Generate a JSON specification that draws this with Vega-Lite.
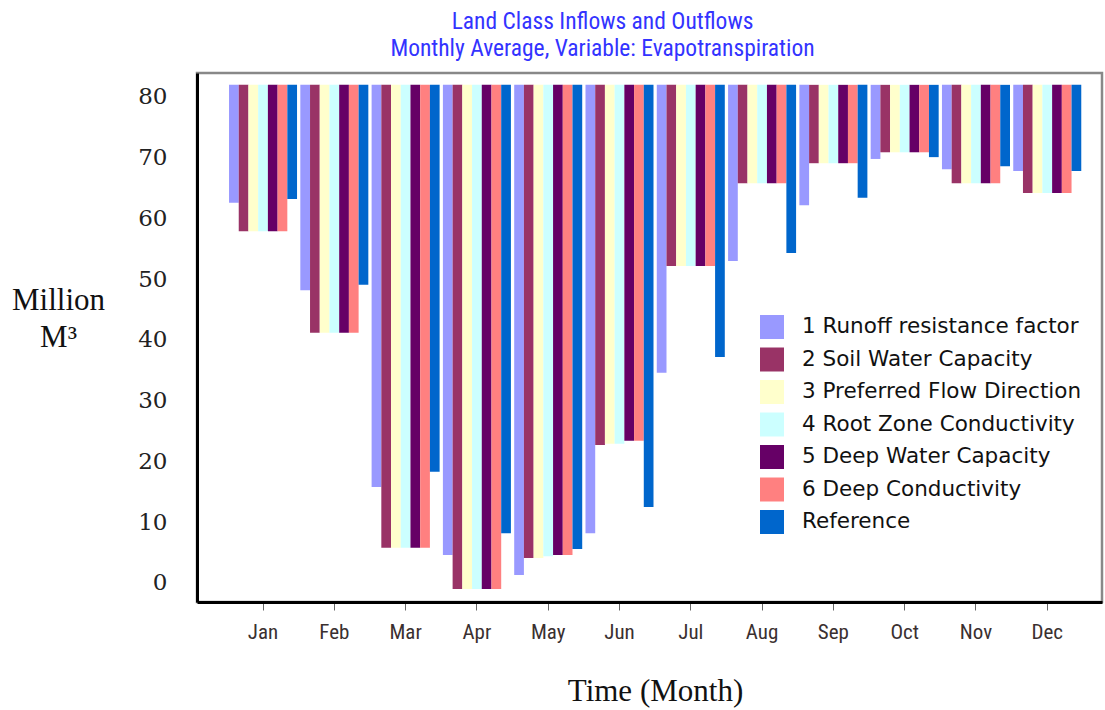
{
  "$schema": "https://vega.github.io/schema/vega-lite/v6.json",
  "autosize": {"type": "none"},
  "width": 905,
  "height": 529,
  "padding": {"left": 197, "top": 73, "right": 3, "bottom": 108},
  "background": "white",
  "title": {
    "text": ["Land Class Inflows and Outflows", "Monthly Average,  Variable: Evapotranspiration"],
    "anchor": "middle",
    "dx": -47,
    "offset": 13,
    "font": "Liberation Sans Narrow, Roboto Condensed, Liberation Sans, sans-serif",
    "fontSize": 23.5,
    "fontWeight": "normal",
    "color": "#3333ff",
    "lineHeight": 27
  },
  "data": {
    "values": [
      {"month": "Jan", "series": "1 Runoff resistance factor", "value": 62.6},
      {"month": "Jan", "series": "2 Soil Water Capacity", "value": 57.9},
      {"month": "Jan", "series": "3 Preferred Flow Direction", "value": 57.9},
      {"month": "Jan", "series": "4 Root Zone Conductivity", "value": 57.9},
      {"month": "Jan", "series": "5 Deep Water Capacity", "value": 57.9},
      {"month": "Jan", "series": "6 Deep Conductivity", "value": 57.9},
      {"month": "Jan", "series": "Reference", "value": 63.2},
      {"month": "Feb", "series": "1 Runoff resistance factor", "value": 48.2},
      {"month": "Feb", "series": "2 Soil Water Capacity", "value": 41.2},
      {"month": "Feb", "series": "3 Preferred Flow Direction", "value": 41.2},
      {"month": "Feb", "series": "4 Root Zone Conductivity", "value": 41.2},
      {"month": "Feb", "series": "5 Deep Water Capacity", "value": 41.2},
      {"month": "Feb", "series": "6 Deep Conductivity", "value": 41.2},
      {"month": "Feb", "series": "Reference", "value": 49.1},
      {"month": "Mar", "series": "1 Runoff resistance factor", "value": 15.8},
      {"month": "Mar", "series": "2 Soil Water Capacity", "value": 5.8},
      {"month": "Mar", "series": "3 Preferred Flow Direction", "value": 5.8},
      {"month": "Mar", "series": "4 Root Zone Conductivity", "value": 5.8},
      {"month": "Mar", "series": "5 Deep Water Capacity", "value": 5.8},
      {"month": "Mar", "series": "6 Deep Conductivity", "value": 5.8},
      {"month": "Mar", "series": "Reference", "value": 18.3},
      {"month": "Apr", "series": "1 Runoff resistance factor", "value": 4.6},
      {"month": "Apr", "series": "2 Soil Water Capacity", "value": -1.0},
      {"month": "Apr", "series": "3 Preferred Flow Direction", "value": -1.0},
      {"month": "Apr", "series": "4 Root Zone Conductivity", "value": -1.0},
      {"month": "Apr", "series": "5 Deep Water Capacity", "value": -1.0},
      {"month": "Apr", "series": "6 Deep Conductivity", "value": -1.0},
      {"month": "Apr", "series": "Reference", "value": 8.2},
      {"month": "May", "series": "1 Runoff resistance factor", "value": 1.3},
      {"month": "May", "series": "2 Soil Water Capacity", "value": 4.1},
      {"month": "May", "series": "3 Preferred Flow Direction", "value": 4.1},
      {"month": "May", "series": "4 Root Zone Conductivity", "value": 4.4},
      {"month": "May", "series": "5 Deep Water Capacity", "value": 4.6},
      {"month": "May", "series": "6 Deep Conductivity", "value": 4.6},
      {"month": "May", "series": "Reference", "value": 5.6},
      {"month": "Jun", "series": "1 Runoff resistance factor", "value": 8.2},
      {"month": "Jun", "series": "2 Soil Water Capacity", "value": 22.7},
      {"month": "Jun", "series": "3 Preferred Flow Direction", "value": 22.9},
      {"month": "Jun", "series": "4 Root Zone Conductivity", "value": 22.9},
      {"month": "Jun", "series": "5 Deep Water Capacity", "value": 23.4},
      {"month": "Jun", "series": "6 Deep Conductivity", "value": 23.4},
      {"month": "Jun", "series": "Reference", "value": 12.5},
      {"month": "Jul", "series": "1 Runoff resistance factor", "value": 34.6},
      {"month": "Jul", "series": "2 Soil Water Capacity", "value": 52.2},
      {"month": "Jul", "series": "3 Preferred Flow Direction", "value": 52.2},
      {"month": "Jul", "series": "4 Root Zone Conductivity", "value": 52.2},
      {"month": "Jul", "series": "5 Deep Water Capacity", "value": 52.2},
      {"month": "Jul", "series": "6 Deep Conductivity", "value": 52.2},
      {"month": "Jul", "series": "Reference", "value": 37.2},
      {"month": "Aug", "series": "1 Runoff resistance factor", "value": 53.0},
      {"month": "Aug", "series": "2 Soil Water Capacity", "value": 65.8},
      {"month": "Aug", "series": "3 Preferred Flow Direction", "value": 65.8},
      {"month": "Aug", "series": "4 Root Zone Conductivity", "value": 65.8},
      {"month": "Aug", "series": "5 Deep Water Capacity", "value": 65.8},
      {"month": "Aug", "series": "6 Deep Conductivity", "value": 65.8},
      {"month": "Aug", "series": "Reference", "value": 54.3},
      {"month": "Sep", "series": "1 Runoff resistance factor", "value": 62.2},
      {"month": "Sep", "series": "2 Soil Water Capacity", "value": 69.1},
      {"month": "Sep", "series": "3 Preferred Flow Direction", "value": 69.1},
      {"month": "Sep", "series": "4 Root Zone Conductivity", "value": 69.1},
      {"month": "Sep", "series": "5 Deep Water Capacity", "value": 69.1},
      {"month": "Sep", "series": "6 Deep Conductivity", "value": 69.1},
      {"month": "Sep", "series": "Reference", "value": 63.4},
      {"month": "Oct", "series": "1 Runoff resistance factor", "value": 69.8},
      {"month": "Oct", "series": "2 Soil Water Capacity", "value": 70.9},
      {"month": "Oct", "series": "3 Preferred Flow Direction", "value": 70.9},
      {"month": "Oct", "series": "4 Root Zone Conductivity", "value": 70.9},
      {"month": "Oct", "series": "5 Deep Water Capacity", "value": 70.9},
      {"month": "Oct", "series": "6 Deep Conductivity", "value": 70.9},
      {"month": "Oct", "series": "Reference", "value": 70.1},
      {"month": "Nov", "series": "1 Runoff resistance factor", "value": 68.1},
      {"month": "Nov", "series": "2 Soil Water Capacity", "value": 65.8},
      {"month": "Nov", "series": "3 Preferred Flow Direction", "value": 65.8},
      {"month": "Nov", "series": "4 Root Zone Conductivity", "value": 65.8},
      {"month": "Nov", "series": "5 Deep Water Capacity", "value": 65.8},
      {"month": "Nov", "series": "6 Deep Conductivity", "value": 65.8},
      {"month": "Nov", "series": "Reference", "value": 68.6},
      {"month": "Dec", "series": "1 Runoff resistance factor", "value": 67.8},
      {"month": "Dec", "series": "2 Soil Water Capacity", "value": 64.2},
      {"month": "Dec", "series": "3 Preferred Flow Direction", "value": 64.2},
      {"month": "Dec", "series": "4 Root Zone Conductivity", "value": 64.2},
      {"month": "Dec", "series": "5 Deep Water Capacity", "value": 64.2},
      {"month": "Dec", "series": "6 Deep Conductivity", "value": 64.2},
      {"month": "Dec", "series": "Reference", "value": 67.8}
    ]
  },
  "mark": {"type": "bar", "cornerRadius": 0},
  "encoding": {
    "x": {
      "field": "month",
      "type": "nominal",
      "sort": ["Jan", "Feb", "Mar", "Apr", "May", "Jun", "Jul", "Aug", "Sep", "Oct", "Nov", "Dec"],
      "scale": {"paddingInner": 0.046, "paddingOuter": 0.37, "align": 0.607},
      "axis": {
        "title": "Time (Month)",
        "titleFont": "Liberation Serif, DejaVu Serif, serif",
        "titleFontSize": 31,
        "titleFontWeight": "normal",
        "titleColor": "#111",
        "titlePadding": 34,
        "titleX": 458,
        "labelAngle": 0,
        "labelFont": "Liberation Sans Narrow, Roboto Condensed, Liberation Sans, sans-serif",
        "labelFontSize": 21,
        "labelColor": "#3a3030",
        "labelPadding": 11,
        "labelDx": 4,
        "tickSize": 8,
        "tickColor": "#666",
        "tickWidth": 1,
        "domainColor": "#000",
        "domainWidth": 3
      }
    },
    "xOffset": {
      "field": "series",
      "type": "nominal",
      "sort": ["1 Runoff resistance factor", "2 Soil Water Capacity", "3 Preferred Flow Direction", "4 Root Zone Conductivity", "5 Deep Water Capacity", "6 Deep Conductivity", "Reference"],
      "scale": {"paddingInner": 0, "paddingOuter": 0}
    },
    "y": {
      "field": "value",
      "type": "quantitative",
      "scale": {"domain": [-3.13, 83.95], "nice": false, "zero": false},
      "axis": {
        "values": [0, 10, 20, 30, 40, 50, 60, 70, 80],
        "title": ["Million", "M³"],
        "titleAngle": 0,
        "titleFont": "Liberation Serif, DejaVu Serif, serif",
        "titleFontSize": 31,
        "titleFontWeight": "normal",
        "titleColor": "#111",
        "titleAlign": "center",
        "titleBaseline": "top",
        "titleLineHeight": 37,
        "titleX": -139,
        "titleY": 212,
        "labelFont": "DejaVu Serif, Liberation Serif, serif",
        "labelFontSize": 23,
        "labelColor": "#222",
        "labelPadding": 30,
        "ticks": false,
        "grid": false,
        "domainColor": "#000",
        "domainWidth": 3
      }
    },
    "y2": {"datum": 82},
    "color": {
      "field": "series",
      "type": "nominal",
      "scale": {
        "domain": ["1 Runoff resistance factor", "2 Soil Water Capacity", "3 Preferred Flow Direction", "4 Root Zone Conductivity", "5 Deep Water Capacity", "6 Deep Conductivity", "Reference"],
        "range": ["#9999ff", "#993366", "#ffffcc", "#ccffff", "#660066", "#ff8080", "#0066cc"]
      },
      "legend": {
        "title": null,
        "orient": "none",
        "legendX": 563,
        "legendY": 242,
        "padding": 0,
        "symbolType": "square",
        "symbolSize": 576,
        "symbolStrokeWidth": 0,
        "symbolOpacity": 1,
        "labelFont": "DejaVu Sans, Liberation Sans, sans-serif",
        "labelFontSize": 21.5,
        "labelColor": "#111",
        "labelOffset": 18,
        "labelLimit": 400,
        "rowPadding": 8.5
      }
    }
  },
  "config": {
    "view": {"stroke": "#888", "strokeWidth": 2.5}
  }
}
